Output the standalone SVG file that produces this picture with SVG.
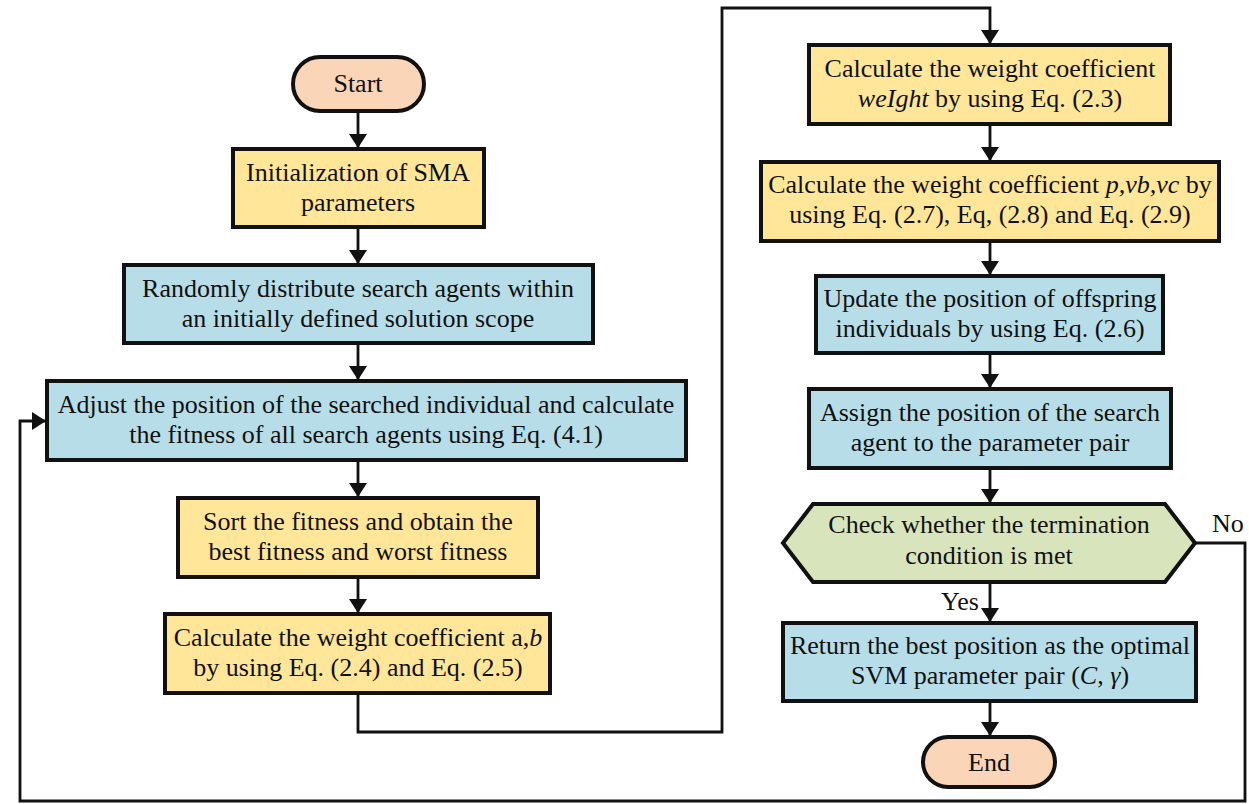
<svg xmlns="http://www.w3.org/2000/svg" width="1249" height="804" viewBox="0 0 1249 804">
  <style>
    .t { font-family: "Liberation Serif", "Times New Roman", serif; font-size: 26px; fill: #111; text-anchor: middle; }
    .lbl { font-family: "Liberation Serif", "Times New Roman", serif; font-size: 26px; fill: #111; }
    .box { stroke: #111; stroke-width: 4; }
    .yel { fill: #FFE699; }
    .blu { fill: #B7DEE8; }
    .grn { fill: #D8E4BC; }
    .term { fill: #FAD5B8; stroke: #111; stroke-width: 4; }
    .ln { fill: none; stroke: #111; stroke-width: 2.8; }
    .it { font-style: italic; }
  </style>
  <defs>
    <marker id="arr" viewBox="0 0 14 18" refX="14" refY="9" markerWidth="14" markerHeight="18" markerUnits="userSpaceOnUse" orient="auto">
      <path d="M0,0 L14,9 L0,18 Z" fill="#111"/>
    </marker>
  </defs>
  <rect width="1249" height="804" fill="#fff"/>

  <!-- connectors -->
  <g id="connectors">
    <line class="ln" x1="358" y1="111" x2="358" y2="148" marker-end="url(#arr)"/>
    <line class="ln" x1="358" y1="227" x2="358" y2="264" marker-end="url(#arr)"/>
    <line class="ln" x1="358" y1="343" x2="358" y2="380" marker-end="url(#arr)"/>
    <line class="ln" x1="358" y1="460" x2="358" y2="497" marker-end="url(#arr)"/>
    <line class="ln" x1="358" y1="577" x2="358" y2="613" marker-end="url(#arr)"/>
    <polyline class="ln" points="358,693 358,732 722,732 722,8 990,8 990,44" marker-end="url(#arr)"/>
    <line class="ln" x1="990" y1="124" x2="990" y2="161" marker-end="url(#arr)"/>
    <line class="ln" x1="990" y1="241" x2="990" y2="275" marker-end="url(#arr)"/>
    <line class="ln" x1="990" y1="353" x2="990" y2="388" marker-end="url(#arr)"/>
    <line class="ln" x1="990" y1="468" x2="990" y2="503" marker-end="url(#arr)"/>
    <line class="ln" x1="990" y1="582" x2="990" y2="622" marker-end="url(#arr)"/>
    <line class="ln" x1="990" y1="701" x2="990" y2="736" marker-end="url(#arr)"/>
    <polyline class="ln" points="1195,543 1245,543 1245,801 20,801 20,421 46,421" marker-end="url(#arr)"/>
    <text class="lbl" x="1212" y="532">No</text>
    <text class="lbl" x="941" y="610">Yes</text>
  </g>

  <g id="start">
    <rect class="term" x="293" y="57" width="131" height="54" rx="27"/>
    <text class="t" x="358" y="92">Start</text>
  </g>

  <g id="init">
    <rect class="box yel" x="233" y="149" width="251" height="78"/>
    <text class="t" x="358" y="181">Initialization of SMA</text>
    <text class="t" x="358" y="211">parameters</text>
  </g>

  <g id="distribute">
    <rect class="box blu" x="124" y="265" width="469" height="78"/>
    <text class="t" x="358" y="297">Randomly distribute search agents within</text>
    <text class="t" x="358" y="327">an initially defined solution scope</text>
  </g>

  <g id="adjust">
    <rect class="box blu" x="47" y="381" width="639" height="79"/>
    <text class="t" x="366" y="413">Adjust the position of the searched individual and calculate</text>
    <text class="t" x="366" y="443">the fitness of all search agents using Eq. (4.1)</text>
  </g>

  <g id="sort">
    <rect class="box yel" x="178" y="498" width="360" height="79"/>
    <text class="t" x="358" y="530">Sort the fitness and obtain the</text>
    <text class="t" x="358" y="560">best fitness and worst fitness</text>
  </g>

  <g id="calc-ab">
    <rect class="box yel" x="165" y="614" width="385" height="79"/>
    <text class="t" x="358" y="646">Calculate the weight coefficient a,<tspan class="it">b</tspan></text>
    <text class="t" x="358" y="676">by using Eq. (2.4) and Eq. (2.5)</text>
  </g>

  <g id="calc-weight">
    <rect class="box yel" x="809" y="45" width="361" height="79"/>
    <text class="t" x="990" y="77">Calculate the weight coefficient</text>
    <text class="t" x="990" y="107"><tspan class="it">weIght</tspan> by using Eq. (2.3)</text>
  </g>

  <g id="calc-pvbvc">
    <rect class="box yel" x="761" y="162" width="458" height="79"/>
    <text class="t" x="990" y="193">Calculate the weight coefficient <tspan class="it">p,vb,vc</tspan> by</text>
    <text class="t" x="990" y="223">using Eq. (2.7), Eq, (2.8) and Eq. (2.9)</text>
  </g>

  <g id="update">
    <rect class="box blu" x="816" y="276" width="347" height="77"/>
    <text class="t" x="990" y="307">Update the position of offspring</text>
    <text class="t" x="990" y="337">individuals by using Eq. (2.6)</text>
  </g>

  <g id="assign">
    <rect class="box blu" x="809" y="389" width="362" height="79"/>
    <text class="t" x="990" y="421">Assign the position of the search</text>
    <text class="t" x="990" y="451">agent to the parameter pair</text>
  </g>

  <g id="check">
    <polygon class="box grn" points="783,543 813,504 1165,504 1195,543 1165,582 813,582"/>
    <text class="t" x="989" y="533">Check whether the termination</text>
    <text class="t" x="989" y="564">condition is met</text>
  </g>

  <g id="return">
    <rect class="box blu" x="783" y="623" width="413" height="78"/>
    <text class="t" x="990" y="654">Return the best position as the optimal</text>
    <text class="t" x="990" y="684">SVM parameter pair (<tspan class="it">C</tspan>, <tspan class="it">γ</tspan>)</text>
  </g>

  <g id="end">
    <rect class="term" x="923" y="737" width="132" height="50" rx="25"/>
    <text class="t" x="989" y="771">End</text>
  </g>
</svg>
